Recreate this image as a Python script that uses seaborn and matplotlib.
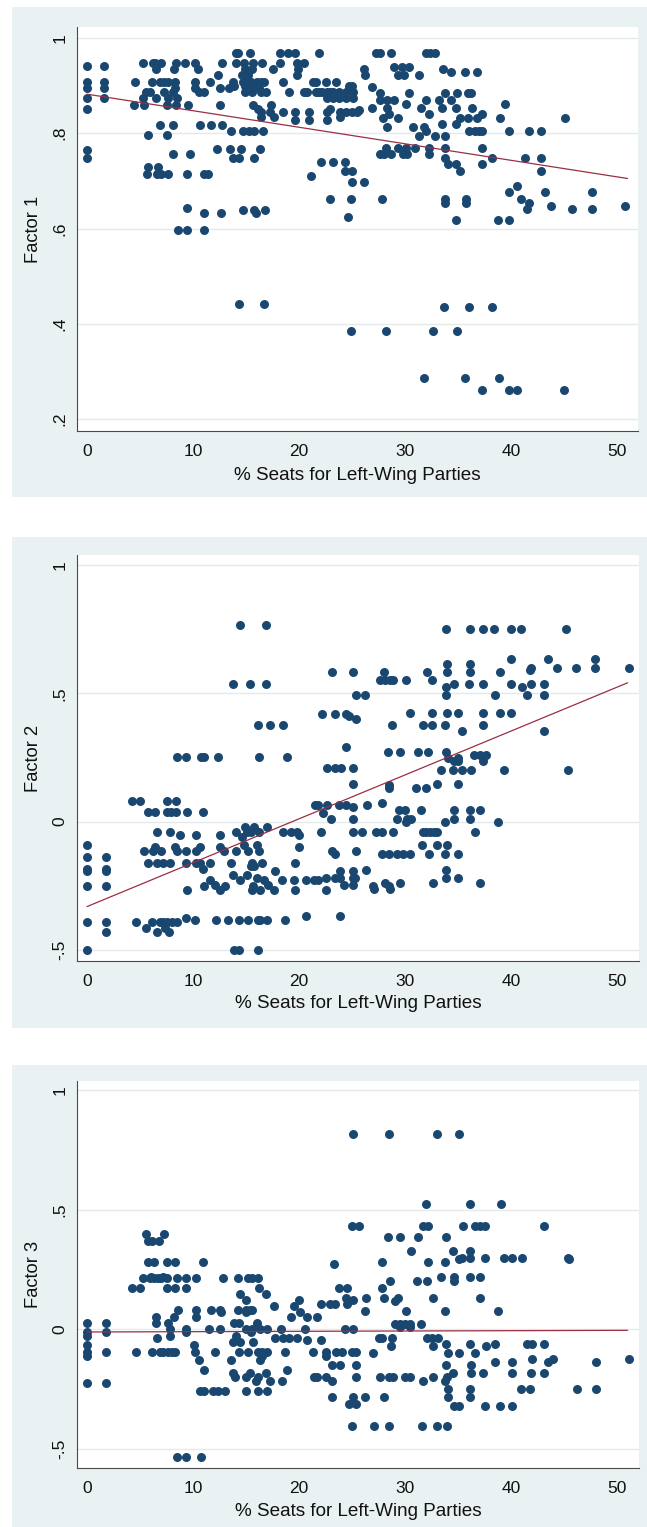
import matplotlib
matplotlib.use("Agg")
import matplotlib.pyplot as plt
import pandas as pd
import seaborn as sns

# ---------------- data ----------------
x_ticks = [0, 10, 20, 30, 40, 50]
x_title = "% Seats for Left-Wing Parties"
y_titles = ["Factor 1", "Factor 2", "Factor 3"]
y_ticks1 = [0.2, 0.4, 0.6, 0.8, 1.0]
y_labels1 = [".2", ".4", ".6", ".8", "1"]
y_ticks23 = [-0.5, 0.0, 0.5, 1.0]
y_labels23 = ["-.5", "0", ".5", "1"]

fit_x = [0, 51]
fit1_y = [0.882, 0.705]
fit2_y = [-0.331, 0.541]
fit3_y = [-0.012, -0.005]

# Factor 1: y levels and the seat shares observed at each level
f1_levels = [0.968, 0.947, 0.942, 0.940, 0.934, 0.928, 0.922, 0.908, 0.900, 0.897,
             0.894, 0.887, 0.884, 0.873, 0.869, 0.862, 0.860, 0.852, 0.851, 0.849,
             0.845, 0.841, 0.834, 0.833, 0.827, 0.820, 0.817, 0.813, 0.804, 0.796,
             0.794, 0.768, 0.766, 0.764, 0.757, 0.749, 0.747, 0.740, 0.736, 0.729,
             0.721, 0.714, 0.711, 0.697, 0.689, 0.676, 0.663, 0.661, 0.653, 0.647,
             0.644, 0.641, 0.638, 0.632, 0.624, 0.617, 0.596, 0.442, 0.436, 0.385,
             0.286, 0.261]
f1_xs = [
    [14.1, 14.2, 15.4, 18.2, 19.0, 19.6, 21.9, 27.3, 27.6, 28.7, 32.0, 32.4, 32.8],
    [5.3, 6.2, 6.4, 7.0, 8.4, 9.2, 10.2, 12.7, 14.1, 14.8, 15.7, 16.5, 18.2, 19.8, 20.5],
    [0.0, 1.6],
    [29.0, 29.7, 30.4],
    [6.5, 8.2, 10.5, 14.9, 15.6, 17.5, 19.9, 26.1, 33.6],
    [34.3, 35.7, 36.8],
    [12.4, 14.6, 15.2, 19.8, 26.2, 29.3, 29.9, 31.3],
    [0.0, 1.6, 4.5, 6.1, 6.9, 7.3, 7.6, 8.3, 10.2, 11.6, 13.8, 14.7, 15.0, 15.5, 16.0,
     16.4, 16.7, 18.5, 21.3, 21.6, 22.5, 23.5],
    [13.9, 14.9, 15.6, 24.7, 25.0],
    [26.9],
    [0.0, 1.6, 8.3, 10.2, 12.5, 13.4, 16.2],
    [5.6, 5.9, 7.3, 8.1, 10.6, 11.0, 14.9, 15.6, 16.4, 16.9, 19.1, 20.5, 20.8, 21.6,
     21.9, 22.2, 22.6, 22.9, 23.2, 23.8, 24.4, 25.1],
    [27.6, 30.4, 33.8, 34.9, 35.9, 36.2],
    [0.0, 1.6, 5.3, 6.5, 7.6, 8.5, 22.6, 23.2, 23.8, 24.4, 25.1],
    [27.6, 28.3, 29.0, 32.0, 33.2, 34.3],
    [30.1, 39.4],
    [4.4, 5.4, 7.5, 8.4, 9.5, 12.5, 15.7, 17.4],
    [26.9, 28.3, 31.5, 33.5, 34.8, 36.3],
    [0.0, 16.1, 22.9],
    [25.7],
    [16.4, 17.3, 18.5, 19.6, 20.9, 22.6, 23.9, 24.4, 25.0, 25.5],
    [28.5, 32.3, 37.3],
    [16.4, 17.6, 23.9],
    [27.9, 29.3, 35.2, 35.9, 36.8, 39.0, 45.1],
    [19.6, 20.9, 22.6],
    [33.5, 34.8],
    [6.9, 8.1, 10.7, 11.7, 12.7],
    [28.3, 30.8, 31.8],
    [13.6, 14.7, 15.3, 15.8, 16.6, 32.0, 36.0, 36.6, 37.0, 37.3, 39.8, 41.7, 42.8],
    [5.8, 7.5],
    [31.3, 32.8, 33.8],
    [28.2, 29.3, 30.1, 30.9, 32.3, 33.8, 37.3],
    [12.3, 13.5, 14.5, 16.3],
    [0.0],
    [8.1, 9.7, 27.6, 28.0, 28.7, 29.8, 30.2, 32.3],
    [0.0, 13.8, 14.3, 15.8],
    [33.8, 38.2, 41.3, 42.8],
    [22.1, 23.2, 24.3],
    [34.1, 34.8, 37.3],
    [5.8, 6.7],
    [24.3, 25.0, 35.2, 42.8],
    [5.7, 6.6, 7.0, 7.6, 9.4, 11.0, 11.4],
    [21.1],
    [25.0, 26.1],
    [40.6],
    [39.8, 43.2, 47.6],
    [22.9, 24.9],
    [27.8, 33.8, 35.8, 40.9],
    [33.8, 35.8, 41.7],
    [43.8, 50.8],
    [9.4],
    [41.5, 45.8, 47.6],
    [14.7, 15.8, 16.8],
    [11.0, 12.6, 15.9],
    [24.6],
    [34.8, 38.8, 39.8],
    [8.6, 9.4, 11.0],
    [14.3, 16.7],
    [33.7, 36.0, 38.2],
    [24.9, 28.2, 32.6, 34.9],
    [31.8, 35.7, 38.9],
    [37.3, 39.8, 40.6, 45.0],
]

# Factor 2
f2_levels = [0.768, 0.751, 0.634, 0.614, 0.599, 0.590, 0.582, 0.553, 0.536, 0.535,
             0.525, 0.492, 0.423, 0.421, 0.410, 0.401, 0.378, 0.375, 0.352, 0.290,
             0.270, 0.261, 0.252, 0.248, 0.235, 0.209, 0.200, 0.148, 0.144, 0.131,
             0.082, 0.073, 0.066, 0.057, 0.044, 0.036, 0.034, 0.010, -0.003, -0.022,
             -0.042, -0.051, -0.060, -0.090, -0.099, -0.116, -0.125, -0.138, -0.161,
             -0.174, -0.184, -0.187, -0.194, -0.206, -0.219, -0.226, -0.239, -0.245,
             -0.252, -0.262, -0.265, -0.366, -0.374, -0.384, -0.391, -0.414, -0.431,
             -0.499]
f2_xs = [
    [14.4, 16.9],
    [33.9, 36.1, 37.4, 38.4, 40.0, 40.9, 45.2],
    [40.0, 43.5, 47.9],
    [34.0, 36.1],
    [41.9, 44.3, 46.1, 47.9, 51.1],
    [41.8],
    [23.1, 25.1, 28.0, 32.1, 34.0, 36.1, 39.0],
    [27.6, 28.1, 28.6, 28.9, 30.1, 32.5],
    [13.8, 15.4, 16.9],
    [34.6, 36.0, 37.4, 40.0, 41.9, 43.1],
    [33.9, 41.0],
    [25.4, 26.2, 33.9, 38.5, 41.5, 43.1],
    [30.5, 32.5, 34.0, 35.0, 37.4, 39.0, 40.0],
    [22.2, 23.4, 24.4],
    [24.7],
    [25.4],
    [16.1, 17.3, 18.5],
    [28.8, 31.7, 32.5, 33.8, 37.4],
    [35.4, 43.1],
    [24.4],
    [28.4, 29.5, 31.2, 32.2, 33.9],
    [36.5, 37.1, 37.6],
    [8.5, 9.3, 10.8, 11.0, 12.4, 16.2, 18.9],
    [34.1, 35.0],
    [34.6, 35.0, 37.4],
    [22.6, 23.4, 24.0, 25.1],
    [33.4, 34.5, 35.4, 36.2, 39.3, 45.4],
    [25.1, 33.0, 35.0],
    [28.5],
    [28.5, 31.0, 32.0],
    [4.2, 5.0, 7.5, 8.4],
    [27.8],
    [21.5, 21.8, 22.6, 23.8, 24.4, 26.4],
    [25.1],
    [29.4, 30.0, 31.5, 34.6, 36.1, 37.1],
    [5.8, 6.4, 7.5, 7.9, 8.4, 9.4, 10.9],
    [22.3],
    [23.0, 25.1, 29.2, 30.2, 30.6, 34.6, 36.1],
    [30.1, 33.8, 38.8],
    [14.9, 15.8, 17.0],
    [6.6, 7.8, 14.1, 15.1, 15.5, 16.2, 18.5, 19.2, 19.8, 22.1, 25.1, 25.9, 27.3, 27.8,
     28.9, 31.7, 32.0, 32.4, 32.7, 33.0, 36.6],
    [8.8, 10.3, 12.5, 20.0],
    [14.6],
    [0.0, 14.8, 16.0, 31.6, 33.0, 34.0],
    [6.4, 8.3, 10.7, 12.5, 20.0],
    [5.4, 6.2, 7.0, 8.5, 9.3, 10.3, 12.9, 14.1, 15.2, 16.2, 23.1, 25.4],
    [23.4, 27.8, 28.5, 29.2, 29.8, 30.5, 32.3, 33.8, 35.0],
    [0.0, 1.8],
    [5.8, 6.6, 7.2, 7.8, 9.3, 10.3, 10.7, 11.6, 13.6, 15.6, 16.5, 19.6],
    [15.5, 15.8],
    [0.0, 1.8, 10.9],
    [26.3, 33.9],
    [0.0, 1.8, 17.7, 23.9, 25.1],
    [13.8, 15.1],
    [16.0, 22.5, 23.4, 23.9, 25.1, 25.3, 33.9, 35.0],
    [11.6, 14.4, 16.7, 18.4, 19.5, 20.7, 21.4, 21.8],
    [28.1, 29.5, 32.6, 37.1],
    [12.1, 17.1, 24.2, 25.1],
    [0.0, 1.8, 11.0, 13.0, 15.7, 27.0, 28.5],
    [27.1, 28.6],
    [9.4, 12.5, 15.6, 16.3, 17.6, 19.6, 22.5],
    [20.7, 23.9],
    [9.3],
    [10.2, 12.2, 13.3, 14.3, 15.2, 16.1, 16.3, 17.0, 18.7],
    [0.0, 1.8, 4.6, 6.1, 6.9, 7.2, 7.5, 8.0, 8.5],
    [5.6, 7.4],
    [1.8, 6.6, 7.7],
    [0.0, 13.9, 14.3, 16.1],
]

# Factor 3
f3_levels = [0.818, 0.522, 0.432, 0.400, 0.386, 0.369, 0.327, 0.299, 0.292, 0.279,
             0.274, 0.220, 0.216, 0.212, 0.202, 0.174, 0.146, 0.132, 0.123, 0.118,
             0.104, 0.097, 0.081, 0.077, 0.070, 0.049, 0.025, 0.021, 0.007, 0.000,
             -0.014, -0.028, -0.036, -0.039, -0.045, -0.053, -0.063, -0.065, -0.072,
             -0.097, -0.100, -0.114, -0.125, -0.128, -0.139, -0.149, -0.170, -0.184,
             -0.202, -0.216, -0.226, -0.251, -0.258, -0.286, -0.313, -0.323, -0.404,
             -0.536]
f3_xs = [
    [25.1, 28.5, 33.0, 35.1],
    [32.0, 36.1, 39.1],
    [25.0, 25.7, 31.7, 32.2, 35.5, 36.6, 37.1, 37.5, 43.1],
    [5.6, 7.3],
    [28.4, 29.5, 31.2, 33.9],
    [5.8, 6.1, 6.8],
    [30.6, 34.5, 36.1],
    [35.4, 36.1, 37.5, 39.3, 40.1, 41.0, 45.4],
    [35.1, 45.5],
    [5.8, 6.3, 7.5, 8.3, 10.9, 27.8, 32.2, 33.8],
    [23.3],
    [6.0, 7.2],
    [33.4, 34.6, 36.1, 37.1],
    [5.3, 5.9, 6.3, 6.7, 7.0, 7.5, 8.5, 9.3, 10.3, 12.8, 14.2, 15.2, 15.6, 16.1],
    [28.6, 31.1, 32.1, 34.6],
    [4.2, 5.0, 7.5, 8.3, 9.3, 16.2, 23.8, 24.5, 27.8],
    [14.4, 16.9],
    [24.4, 26.3, 28.0, 29.3, 32.6, 37.1],
    [15.0, 20.0, 25.1],
    [29.1],
    [22.1, 22.9, 23.4, 24.5],
    [17.6, 19.5],
    [8.6, 10.3, 11.7, 12.5, 14.2, 15.0, 15.4, 15.6],
    [26.2, 30.1, 33.8, 38.8],
    [12.6, 15.0, 20.1],
    [6.5, 8.2, 10.3, 19.2, 20.8, 21.7],
    [0.0, 1.8, 6.5, 7.6, 13.9, 14.3, 16.0],
    [29.1, 29.5, 30.0, 30.5, 31.5],
    [29.5, 30.5],
    [7.8, 9.3, 11.5, 12.5, 15.0, 15.6, 16.3, 17.0, 18.3, 20.6, 24.3, 25.1],
    [0.0, 1.8, 9.3, 15.5],
    [0.0, 7.8, 14.1],
    [6.6, 17.7, 18.5, 19.1, 19.8],
    [27.5, 27.8, 28.8, 32.1, 32.5, 33.1],
    [20.8, 22.1],
    [13.8, 14.4, 15.7],
    [33.9, 36.1, 38.5, 41.5, 42.0, 43.1],
    [0.0, 10.1],
    [28.7, 32.6, 37.6],
    [0.0, 1.8, 4.6, 6.1, 6.9, 7.2, 7.6, 8.0, 8.3, 10.2, 12.1, 14.3, 15.2, 16.1, 16.5,
     17.0, 18.7, 21.3, 22.5, 23.5, 24.1, 25.0, 25.4],
    [27.0, 34.1, 35.1, 36.6],
    [0.0, 16.5, 22.5],
    [42.0, 44.0, 51.1],
    [10.6, 13.6, 16.3],
    [38.5, 40.1, 43.5, 48.0],
    [23.1, 23.9, 25.4, 33.9, 36.2],
    [11.0, 18.9],
    [13.8, 15.4, 16.9, 34.5, 36.2, 37.4, 40.1, 41.9, 43.1],
    [14.0, 15.0, 16.1, 21.4, 21.7, 22.5, 25.4, 27.6, 28.5, 28.9, 30.0, 30.5, 32.6, 34.0],
    [15.9, 17.3, 18.4, 23.1, 31.7, 33.8],
    [0.0, 1.8],
    [34.1, 36.1, 40.9, 41.8, 46.2, 48.0],
    [10.7, 11.0, 11.9, 12.4, 13.0, 15.0, 16.1, 17.0],
    [23.1, 25.1, 26.2, 28.0, 34.1, 36.1],
    [24.7, 25.4],
    [34.6, 35.1, 37.5, 39.0, 40.1],
    [25.0, 27.1, 28.5, 31.6, 33.0, 34.0],
    [8.5, 9.3, 10.8],
]


def to_frame(levels, xs):
    rows = [(x, y) for y, row in zip(levels, xs) for x in row]
    return pd.DataFrame(rows, columns=["seats", "factor"])


# ---------------- style ----------------
sns.set_theme(style="white")
plt.rcParams["font.family"] = ["Liberation Sans", "DejaVu Sans"]

W, H = 647, 1527
fig = plt.figure(figsize=(W / 100, H / 100), dpi=100, facecolor="white")

BG = "#EAF1F3"
NAVY = "#1A476F"
MAROON = "#9A2F43"
AXC = "#4A4A4A"
GRID = "#E3EAEC"


def fig_rect(l, t, r, b):
    return [l / W, 1 - b / H, (r - l) / W, (b - t) / H]


panels = [
    dict(bg=(12, 7, 647, 497), ax=(77, 27, 638, 431), ylim=(0.175, 1.023),
         df=to_frame(f1_levels, f1_xs), fit=fit1_y, yt=y_ticks1, yl=y_labels1, xo=45),
    dict(bg=(12, 537, 647, 1028), ax=(77, 555, 639, 961), ylim=(-0.543, 1.039),
         df=to_frame(f2_levels, f2_xs), fit=fit2_y, yt=y_ticks23, yl=y_labels23, xo=42),
    dict(bg=(12, 1065, 647, 1527), ax=(77, 1081, 639, 1468), ylim=(-0.581, 1.038),
         df=to_frame(f3_levels, f3_xs), fit=fit3_y, yt=y_ticks23, yl=y_labels23, xo=43),
]

for i, p in enumerate(panels):
    l, t, r, b = p["bg"]
    bgax = fig.add_axes(fig_rect(l, t, r, b), zorder=-10)
    bgax.set_facecolor(BG)
    bgax.set_xticks([])
    bgax.set_yticks([])
    for s in bgax.spines.values():
        s.set_visible(False)

    al, at, ar, ab = p["ax"]
    ax = fig.add_axes(fig_rect(al, at, ar, ab), zorder=1)
    ax.set_facecolor("white")

    sns.scatterplot(data=p["df"], x="seats", y="factor", ax=ax, color=NAVY,
                    s=42, linewidth=0, edgecolor=NAVY, zorder=3, legend=False)
    sns.lineplot(x=fit_x, y=p["fit"], ax=ax, color=MAROON, linewidth=0.9,
                 zorder=4, legend=False)

    ax.set_xlim((77 - 87) / 10.6, (ar - 87) / 10.6)
    ax.set_ylim(*p["ylim"])
    ax.set_xticks(x_ticks)
    ax.set_xticklabels([str(v) for v in x_ticks])
    ax.set_yticks(p["yt"])
    ax.set_yticklabels(p["yl"])

    for s in ["top", "right"]:
        ax.spines[s].set_visible(False)
    for s in ["left", "bottom"]:
        ax.spines[s].set_color(AXC)
        ax.spines[s].set_linewidth(0.8)

    ax.yaxis.grid(True, color=GRID, linewidth=1.0, zorder=0)
    ax.xaxis.grid(False)
    ax.set_axisbelow(True)

    ax.tick_params(axis="both", which="major", direction="out", length=4.5,
                   width=0.8, color=AXC, labelsize=12.5, labelcolor="#111111")
    ax.tick_params(axis="x", pad=5)
    ax.tick_params(axis="y", pad=2.5, labelrotation=90)
    for lab in ax.get_yticklabels():
        lab.set_va("center")
        lab.set_ha("right")

    ax.set_xlabel(x_title, fontsize=13.6, color="#111111")
    ax.set_ylabel(y_titles[i], fontsize=13.2, color="#111111")
    h = ab - at
    wdt = ar - al
    ax.xaxis.set_label_coords(0.5, -p["xo"] / h)
    ax.xaxis.label.set_va("center")
    ax.yaxis.set_label_coords(-(al - 33) / wdt, 0.5)
    ax.yaxis.label.set_va("center")

fig.savefig("out.png", dpi=100, facecolor="white")
